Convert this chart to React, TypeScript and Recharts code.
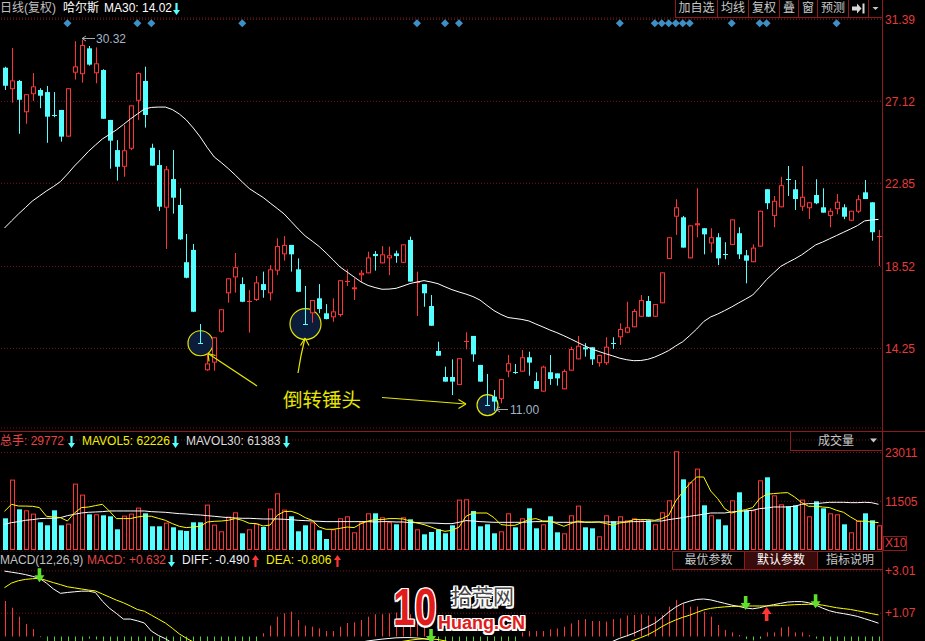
import React from 'react';
import { ComposedChart, Bar, Line, Scatter, XAxis, YAxis, CartesianGrid } from 'recharts';

// daily candles, left to right
const opens = [
  28.87, 27.75, 28.18, 26.55, 27.49, 27.71, 27.6, 26.4, 26.67, 25.28,
  28.61, 28.53, 29.88, 28.58, 28.75, 26.15, 24.58, 23.71, 24.65, 27.15,
  28.18, 24.7, 23.8, 21.58, 23.07, 21.72, 18.74, 19.38, 14.53, 13.11,
  13.51, 15.12, 17.12, 17.95, 17.6, 16.67, 16.77, 17.6, 17.12, 18.3,
  19.15, 19.64, 18.37, 15.53, 16.08, 16.86, 16.08, 15.87, 15.99, 17.75,
  17.33, 18.06, 18.16, 19.17, 18.68, 18.94, 19.2, 18.71, 19.9, 17.64,
  17.6, 16.46, 14.12, 12.76, 12.76, 12.35, 14.64, 14.9, 13.39, 11.31,
  11.74, 11.62, 13.04, 13.04, 13.04, 13.79, 12.55, 12.0, 13.01, 12.95,
  12.12, 13.09, 13.68, 14.31, 14.31, 13.48, 13.48, 14.53, 14.83, 15.07,
  15.35, 15.9, 16.72, 15.9, 16.6, 18.91, 21.11, 21.08, 18.94, 20.66,
  20.51, 19.72, 20.04, 19.16, 19.64, 20.25, 19.1, 18.74, 19.55, 22.54,
  21.15, 21.6, 23.07, 22.54, 21.63, 21.55, 22.24, 21.6, 21.15, 21.5,
  21.6, 20.9, 21.37, 22.38, 21.86, 20.09,
];
const highs = [
  28.92, 29.9, 28.23, 27.49, 28.59, 27.8, 27.92, 27.6, 26.67, 27.8,
  30.25, 30.32, 30.0, 29.93, 28.79, 26.15, 25.1, 25.89, 26.91, 28.63,
  28.92, 24.91, 24.58, 23.75, 24.58, 22.59, 20.21, 19.69, 15.52, 14.0,
  14.83, 16.29, 17.9, 19.22, 17.95, 17.29, 18.02, 18.25, 18.59, 19.99,
  20.1, 19.64, 18.94, 17.5, 16.77, 17.6, 16.56, 16.86, 17.8, 18.37,
  17.9, 18.33, 19.29, 19.32, 19.58, 19.55, 19.34, 19.67, 20.07, 18.25,
  17.6, 17.03, 14.6, 13.3, 13.68, 13.74, 15.09, 14.9, 13.39, 12.92,
  12.08, 12.65, 13.91, 13.44, 14.17, 14.08, 13.0, 13.35, 13.91, 12.95,
  13.16, 14.34, 14.9, 14.52, 14.31, 13.91, 14.83, 14.83, 15.56, 16.68,
  16.3, 17.03, 16.98, 16.56, 18.21, 20.04, 22.02, 21.15, 20.66, 22.59,
  20.51, 20.51, 20.25, 19.78, 20.97, 20.56, 19.38, 19.67, 21.42, 22.54,
  22.19, 23.19, 23.75, 23.02, 23.75, 21.86, 23.06, 22.59, 21.55, 22.29,
  21.76, 21.42, 22.24, 23.02, 21.86, 20.42,
];
const lows = [
  27.71, 27.05, 25.43, 25.95, 27.14, 26.76, 24.96, 26.29, 25.02, 25.28,
  28.25, 28.09, 28.98, 28.06, 26.21, 23.61, 22.99, 23.19, 24.58, 26.15,
  25.75, 23.77, 21.41, 19.43, 21.27, 19.9, 17.9, 16.14, 14.5, 13.08,
  13.09, 15.07, 16.63, 17.15, 16.66, 15.07, 16.72, 16.89, 16.74, 18.07,
  18.82, 18.25, 17.18, 15.5, 15.59, 16.08, 15.76, 15.64, 15.9, 17.5,
  16.77, 17.71, 18.16, 18.3, 18.68, 18.07, 18.71, 18.71, 17.73, 15.94,
  16.42, 15.43, 13.87, 12.52, 11.82, 12.35, 14.2, 13.56, 12.52, 11.25,
  11.0, 11.39, 12.75, 12.92, 13.04, 12.83, 12.14, 12.0, 12.35, 12.31,
  12.12, 13.09, 13.68, 13.82, 13.39, 13.3, 13.39, 14.22, 14.43, 15.04,
  15.35, 15.9, 15.9, 15.9, 16.6, 18.91, 20.16, 19.5, 18.94, 20.04,
  19.15, 19.24, 18.59, 18.89, 19.64, 18.91, 17.64, 18.74, 19.55, 21.5,
  20.56, 21.6, 22.19, 21.46, 21.41, 20.99, 21.76, 21.32, 20.56, 21.24,
  20.98, 20.88, 21.29, 22.03, 19.86, 18.54,
];
const closes = [
  27.93, 28.21, 27.2, 27.49, 27.9, 27.41, 26.32, 26.39, 25.28, 27.8,
  28.94, 30.05, 29.03, 29.1, 26.21, 25.07, 23.71, 24.57, 26.91, 28.59,
  26.41, 23.77, 21.63, 23.58, 22.1, 19.93, 17.93, 16.16, 14.52, 13.47,
  14.83, 16.29, 17.9, 18.48, 16.68, 16.72, 17.69, 17.29, 18.37, 19.58,
  19.64, 19.15, 17.2, 15.52, 16.77, 16.3, 15.78, 16.18, 17.8, 17.76,
  17.43, 18.19, 18.99, 19.06, 19.15, 19.1, 19.06, 19.67, 17.73, 17.69,
  17.12, 15.43, 13.87, 12.52, 12.52, 13.74, 14.65, 13.94, 12.52, 11.3,
  11.48, 12.65, 13.48, 13.03, 13.79, 13.51, 12.14, 13.3, 12.66, 12.69,
  13.07, 14.22, 14.39, 14.2, 13.68, 13.91, 14.34, 14.52, 15.26, 15.35,
  16.2, 16.77, 15.9, 16.56, 18.21, 20.04, 21.6, 19.5, 20.66, 20.77,
  20.19, 20.04, 18.94, 19.15, 20.97, 19.15, 18.82, 19.5, 21.42, 21.81,
  21.94, 22.75, 23.06, 22.03, 22.15, 21.86, 21.81, 21.32, 21.42, 21.89,
  21.11, 21.42, 22.02, 22.03, 20.3, 20.1,
];
const ma30 = [
  20.52, 20.89, 21.25, 21.59, 21.93, 22.19, 22.45, 22.68, 22.94, 23.33,
  23.75, 24.12, 24.51, 24.84, 25.16, 25.39, 25.63, 25.91, 26.2, 26.46,
  26.72, 26.8, 26.82, 26.82, 26.69, 26.46, 26.15, 25.73, 25.26, 24.71,
  24.22, 23.93, 23.62, 23.28, 22.92, 22.58, 22.34, 22.11, 21.82, 21.54,
  21.25, 20.86, 20.47, 20.11, 19.84, 19.56, 19.22, 18.86, 18.49, 18.23,
  17.97, 17.71, 17.53, 17.42, 17.33, 17.34, 17.38, 17.5, 17.63, 17.71,
  17.78, 17.71, 17.62, 17.46, 17.31, 17.19, 17.08, 16.95, 16.77, 16.49,
  16.22, 16.02, 15.86, 15.81, 15.76, 15.68, 15.52, 15.37, 15.21, 15.07,
  14.91, 14.74, 14.56, 14.38, 14.22, 14.09, 13.97, 13.86, 13.74, 13.66,
  13.61, 13.62, 13.68, 13.8, 13.96, 14.14, 14.38, 14.6, 14.92, 15.26,
  15.65, 15.89, 16.04, 16.22, 16.41, 16.62, 16.82, 17.03, 17.42, 17.84,
  18.18, 18.52, 18.72, 18.91, 19.12, 19.38, 19.64, 19.79, 19.96, 20.13,
  20.3, 20.47, 20.65, 20.89, 20.94, 20.97,
];
const volumes = [
  7488, 16628, 9613, 9377, 8598, 6543, 5834, 9377, 5834, 6236,
  15684, 13085, 8432, 8432, 8196, 7960, 4889, 8125, 8598, 10015,
  8669, 5598, 5598, 6472, 5362, 4653, 4488, 6543, 6543, 10723,
  5999, 4417, 7889, 8905, 3945, 4889, 6236, 5433, 9779, 13393,
  9542, 7960, 4417, 5834, 6543, 4653, 2598, 4889, 7488, 7960,
  4181, 6543, 8669, 8669, 7724, 6543, 6070, 7724, 7251, 4889,
  3708, 4252, 4889, 3945, 5834, 11904, 11975, 9212, 5598, 6070,
  3945, 4417, 8669, 5362, 7488, 9850, 5126, 6070, 7960, 4181,
  3945, 8196, 10487, 5362, 5126, 3236, 8196, 6779, 7960, 7015,
  7488, 7015, 7015, 6070, 8905, 11739, 23313, 16699, 15991, 19227,
  10558, 8196, 7251, 5834, 11739, 13629, 9377, 9377, 16463, 17172,
  12920, 10794, 10322, 10558, 11904, 7960, 11503, 9850, 8669, 8432,
  6070, 4181, 6850, 8669, 7015, 5834,
];
const mavol5 = [
  9141, 10794, 10393, 10369, 10322, 10015, 7960, 7795, 7653, 6850,
  8739, 10015, 10157, 10487, 10794, 9212, 7417, 7417, 7417, 7795,
  8031, 7960, 7488, 7015, 6236, 5598, 5291, 5433, 5598, 6614,
  6779, 6850, 7015, 7417, 7015, 6307, 6236, 5669, 5905, 8196,
  9070, 9141, 8598, 7653, 7015, 5433, 4889, 4889, 5126, 5433,
  5291, 6236, 6850, 7180, 7180, 7417, 7417, 7322, 6850, 6377,
  5999, 5433, 4818, 4417, 4653, 5400, 7960, 8739, 8739, 8739,
  7653, 5999, 5834, 5834, 6472, 7180, 7417, 6850, 6850, 6236,
  5598, 6236, 6850, 6614, 6614, 6614, 6236, 5834, 6377, 6614,
  7180, 7180, 7180, 7015, 7417, 8196, 11574, 13700, 15684, 17243,
  17243, 13936, 12141, 9779, 8739, 9212, 9542, 10015, 12141, 13156,
  13322, 13463, 13558, 12519, 11196, 10322, 10322, 10157, 10015, 9377,
  8905, 7795, 6850, 6779, 6614, 6472,
];
const mavol30 = [
  6070, 6464, 6700, 7015, 7173, 7409, 7488, 7488, 7646, 8117,
  8432, 8747, 8904, 8983, 9062, 9219, 9219, 9219, 9219, 9219,
  9219, 9062, 8983, 8904, 8747, 8589, 8510, 8353, 8274, 8117,
  7960, 7803, 7646, 7567, 7488, 7488, 7409, 7330, 7330, 7330,
  7252, 7173, 7015, 6937, 6857, 6779, 6700, 6700, 6700, 6700,
  6700, 6700, 6700, 6621, 6700, 6700, 6621, 6621, 6464, 6464,
  6385, 6385, 6307, 6228, 6228, 6543, 6937, 6857, 6700, 6621,
  6543, 6543, 6543, 6543, 6543, 6621, 6700, 6700, 6700, 6543,
  6543, 6543, 6621, 6543, 6543, 6621, 6621, 6621, 6621, 6621,
  6700, 6700, 6779, 6857, 6857, 7173, 7409, 7646, 7960, 8196,
  8432, 8747, 8747, 8747, 8983, 9141, 9219, 9377, 9771, 9928,
  10164, 10164, 10164, 10322, 10794, 10952, 10952, 11109, 11267, 11267,
  11267, 11188, 11188, 11267, 11188, 10794,
];
const diffs = [
  3.0, 2.95, 2.9, 2.84, 2.76, 2.67, 2.45, 2.18, 1.98, 2.02,
  2.05, 2.08, 2.08, 2.02, 1.62, 1.3, 1.06, 0.8, 0.8, 0.72,
  0.62, 0.25, 0.05, -0.1, -0.3, -0.55, -0.8, -1.05, -1.3, -1.5,
  -1.65, -1.75, -1.8, -1.8, -1.78, -1.72, -1.62, -1.5, -1.35, -1.18,
  -1.0, -0.88, -0.8, -0.75, -0.7, -0.64, -0.58, -0.52, -0.45, -0.38,
  -0.32, -0.26, -0.2, -0.16, -0.12, -0.09, -0.06, -0.05, -0.05, -0.07,
  -0.1, -0.16, -0.3, -0.5, -0.72, -0.9, -1.02, -1.14, -1.26, -1.38,
  -1.48, -1.52, -1.5, -1.45, -1.38, -1.3, -1.25, -1.18, -1.1, -1.02,
  -0.95, -0.85, -0.72, -0.62, -0.52, -0.42, -0.32, -0.22, -0.08, 0.03,
  0.15, 0.3, 0.45, 0.61, 0.85, 1.12, 1.35, 1.52, 1.62, 1.7,
  1.72, 1.68, 1.6, 1.52, 1.44, 1.38, 1.31, 1.27, 1.32, 1.4,
  1.46, 1.52, 1.58, 1.6, 1.6, 1.55, 1.45, 1.3, 1.18, 1.1,
  1.05, 0.99, 0.92, 0.82, 0.72, 0.61,
];
const deas = [
  2.24, 2.45, 2.56, 2.62, 2.65, 2.67, 2.57, 2.47, 2.38, 2.28,
  2.23, 2.18, 2.13, 2.09, 1.95, 1.81, 1.67, 1.55, 1.4, 1.24,
  1.16, 0.98, 0.8, 0.62, 0.38, 0.12, -0.08, -0.25, -0.42, -0.58,
  -0.72, -0.86, -0.98, -1.08, -1.16, -1.22, -1.26, -1.28, -1.28, -1.26,
  -1.22, -1.16, -1.1, -1.04, -0.98, -0.92, -0.86, -0.8, -0.74, -0.68,
  -0.62, -0.56, -0.5, -0.44, -0.38, -0.32, -0.27, -0.22, -0.17, -0.13,
  -0.11, -0.11, -0.14, -0.2, -0.28, -0.38, -0.48, -0.58, -0.68, -0.78,
  -0.88, -0.98, -1.06, -1.12, -1.16, -1.18, -1.19, -1.19, -1.17, -1.14,
  -1.1, -1.05, -0.99, -0.92, -0.84, -0.75, -0.65, -0.54, -0.42, -0.29,
  -0.17, -0.05, 0.08, 0.25, 0.45, 0.62, 0.76, 0.88, 0.98, 1.1,
  1.22, 1.29, 1.33, 1.36, 1.38, 1.39, 1.4, 1.4, 1.4, 1.4,
  1.41, 1.42, 1.44, 1.46, 1.47, 1.48, 1.48, 1.44, 1.38, 1.32,
  1.28, 1.24, 1.18, 1.12, 1.05, 0.99,
];
const macdBars = [
  1.63, 1.32, 0.91, 0.57, 0.34, -0.03, -0.24, -0.58, -0.8, -0.52,
  -0.36, -0.2, -0.1, -0.14, -0.66, -1.02, -1.22, -1.5, -1.2, -1.04,
  -1.08, -1.46, -1.5, -1.44, -1.36, -1.34, -1.44, -1.6, -1.76, -1.84,
  -1.86, -1.78, -1.64, -1.44, -1.24, -1.0, -0.72, 0.15, 0.5, 0.91,
  1.06, 1.14, 0.76, 0.5, 0.45, 0.37, 0.25, 0.25, 0.45, 0.62,
  0.65, 0.76, 0.91, 1.02, 1.02, 1.06, 1.1, 1.08, 1.02, 0.8,
  0.45, -0.1, -0.32, -0.6, -0.88, -1.04, -1.08, -1.12, -1.16, -1.2,
  -1.2, -1.08, -0.88, -0.66, 0.19, 0.25, 0.25, 0.25, 0.33, 0.37,
  0.45, 0.6, 0.76, 0.8, 0.71, 0.71, 0.68, 0.8, 0.83, 0.96,
  0.99, 1.02, 0.96, 0.91, 0.99, 1.37, 1.67, 1.52, 1.37, 1.37,
  1.14, 0.91, 0.53, 0.3, 0.19, 0.07, -0.12, -0.18, -0.1, 0.19,
  0.19, 0.41, 0.45, 0.19, 0.19, 0.07, -0.1, -0.22, -0.34, -0.42,
  -0.46, -0.5, -0.52, -0.6, -0.66, -0.76,
];
const flagDays = [9, 19, 21, 34, 59, 63, 65, 88, 93, 94, 95, 96, 97, 98, 104, 108, 109, 119];
const hammerDays = [28, 43, 69];
const deadCrossDays = [5, 61, 106, 116];
const goldenCrossDays = [109];
const priceTicks = [14.25, 18.52, 22.85, 27.12, 31.39];
const volTicks = [11505, 23011];
const macdTicks = [1.07, 3.01];
const FLAG_LEVEL = 31.18;

const rows = opens.map((open, i) => ({
  i,
  open,
  high: highs[i],
  low: lows[i],
  close: closes[i],
  ma: ma30[i],
  vol: volumes[i],
  mv5: mavol5[i],
  mv30: mavol30[i],
  diff: diffs[i],
  dea: deas[i],
  macd: macdBars[i],
  flag: flagDays.includes(i) ? FLAG_LEVEL : null,
  cross: deadCrossDays.includes(i) || goldenCrossDays.includes(i) ? deas[i] : null,
}));

const RED = '#ff3434';
const CYAN = '#54ffff';
const GREEN = '#4ed22a';
const AXIS_RED = '#e23c3c';
const GRID = '#741818';
const FRAME = '#8e1b1b';
const FONT = '"Liberation Sans", Arial, "Noto Sans CJK SC", sans-serif';
const HAMMER_R: Record<number, number> = { 28: 12.5, 43: 15.5, 69: 10.5 };

const Candle = (props: any) => {
  const { x, y, width, height, payload } = props;
  const { open, close, high, low, i } = payload;
  const cx = Math.round(x + width / 2);
  const k = height / (high - low);
  const yOf = (v: number) => y + (high - v) * k;
  const up = close > open;
  const color = up ? RED : CYAN;
  const top = yOf(Math.max(open, close));
  const bot = yOf(Math.min(open, close));
  const r = hammerDays.includes(i) ? HAMMER_R[i] : 0;
  let body;
  if (bot - top < 1.5) {
    const yy = Math.round(yOf(close)) + 0.5;
    body = <line x1={cx - 2} x2={cx + 3} y1={yy} y2={yy} stroke={color} />;
  } else if (up) {
    body = <rect x={cx - 1.5} y={top + 0.5} width={4} height={bot - top - 1} fill="#000" stroke={color} />;
  } else {
    body = <rect x={cx - 2} y={top} width={5} height={bot - top} fill={color} />;
  }
  return (
    <g>
      {r > 0 && (
        <circle cx={cx + 0.5} cy={yOf(close)} r={r} fill="#0b1d3b" stroke="#e8e800" strokeWidth={1.2} />
      )}
      <line x1={cx + 0.5} x2={cx + 0.5} y1={y} y2={y + height} stroke={color} />
      {body}
    </g>
  );
};

const VolBar = (props: any) => {
  const { x, y, width, height, payload } = props;
  const cx = Math.round(x + width / 2);
  if (payload.close > payload.open) {
    return <rect x={cx - 1.5} y={y + 0.5} width={4} height={Math.max(height - 1, 0)} fill="#000" stroke={RED} />;
  }
  return <rect x={cx - 2} y={y} width={5} height={height} fill={CYAN} />;
};

const MacdBar = (props: any) => {
  const { x, y, width, height, payload } = props;
  const cx = Math.round(x + width / 2) + 0.5;
  return (
    <line x1={cx} x2={cx} y1={y} y2={y + height} stroke={payload.macd >= 0 ? RED : GREEN} />
  );
};

const Flag = (props: any) => {
  const { cx, cy, payload } = props;
  if (payload == null || payload.flag == null) return null;
  return <path d={`M${cx} ${cy - 4}L${cx + 4} ${cy}L${cx} ${cy + 4}L${cx - 4} ${cy}Z`} fill="#3d8fc6" />;
};

const CrossArrow = (props: any) => {
  const { cx, cy, payload } = props;
  if (payload == null || payload.cross == null) return null;
  if (goldenCrossDays.includes(payload.i)) {
    const t = cy + 1;
    return (
      <path
        d={`M${cx} ${t}L${cx + 5} ${t + 7}L${cx + 1.8} ${t + 7}L${cx + 1.8} ${t + 14}L${cx - 1.8} ${t + 14}L${cx - 1.8} ${t + 7}L${cx - 5} ${t + 7}Z`}
        fill={RED}
      />
    );
  }
  const t = cy + 4;
  return (
    <path
      d={`M${cx} ${t}L${cx + 5} ${t - 7}L${cx + 1.8} ${t - 7}L${cx + 1.8} ${t - 14}L${cx - 1.8} ${t - 14}L${cx - 1.8} ${t - 7}L${cx - 5} ${t - 7}Z`}
      fill="#5ee02a"
    />
  );
};

const Txt = ({ left, top, color, size = 12, children, style }: any) => (
  <span
    style={{
      position: 'absolute',
      left,
      top,
      color,
      fontSize: size,
      lineHeight: '14px',
      whiteSpace: 'nowrap',
      ...style,
    }}
  >
    {children}
  </span>
);

const TinyArrow = ({ left, top, color, up }: any) => (
  <svg style={{ position: 'absolute', left, top }} width={7} height={12}>
    {up ? (
      <path d="M3.5 0L7 5L4.6 5L4.6 12L2.4 12L2.4 5L0 5Z" fill={color} />
    ) : (
      <path d="M2.4 0L4.6 0L4.6 7L7 7L3.5 12L0 7L2.4 7Z" fill={color} />
    )}
  </svg>
);

const boxStyle = (w: number, h: number, extra?: any) => ({
  width: w,
  height: h,
  boxSizing: 'border-box' as const,
  borderRight: `1px solid ${FRAME}`,
  borderBottom: `1px solid ${FRAME}`,
  color: '#c8c8c8',
  fontSize: 12,
  lineHeight: `${h - 1}px`,
  textAlign: 'center' as const,
  ...extra,
});

const topButtons = [
  { label: '加自选', w: 42 },
  { label: '均线', w: 31 },
  { label: '复权', w: 31 },
  { label: '叠', w: 19 },
  { label: '窗', w: 19 },
  { label: '预测', w: 31 },
];

const outline =
  '-1.5px 0 #fff, 1.5px 0 #fff, 0 -1.5px #fff, 0 1.5px #fff, -1.5px -1.5px #fff, 1.5px 1.5px #fff, -1.5px 1.5px #fff, 1.5px -1.5px #fff';

const xAxis = <XAxis dataKey="i" type="category" hide />;
const margin = { top: 0, right: 0, left: 1, bottom: 0 };

export default function App() {
  return (
    <div
      style={{
        position: 'absolute',
        left: 0,
        top: 0,
        width: 925,
        height: 641,
        background: '#000',
        overflow: 'hidden',
        fontFamily: FONT,
      }}
    >
      {/* price panel */}
      <div style={{ position: 'absolute', left: 0, top: 0 }}>
        <ComposedChart width={925} height={430} data={rows} margin={{ ...margin, top: 18, bottom: 2 }}>
          {xAxis}
          <YAxis
            orientation="right"
            width={43}
            type="number"
            domain={[10.105, 31.459]}
            allowDataOverflow
            ticks={priceTicks}
            interval={0}
            tickFormatter={(v: number) => v.toFixed(2)}
            tick={{ fill: AXIS_RED, fontSize: 12 }}
            tickLine={false}
            axisLine={false}
            tickSize={0}
            tickMargin={3}
          />
          <CartesianGrid vertical={false} stroke={GRID} strokeDasharray="1 2" />
          <Bar dataKey={(d: any) => [d.low, d.high]} shape={<Candle />} isAnimationActive={false} />
          <Line dataKey="ma" stroke="#ffffff" strokeWidth={1} dot={false} type="linear" isAnimationActive={false} />
          <Scatter dataKey="flag" shape={<Flag />} isAnimationActive={false} />
        </ComposedChart>
      </div>

      {/* volume panel */}
      <div style={{ position: 'absolute', left: 0, top: 431 }}>
        <ComposedChart width={925} height={119} data={rows} margin={{ ...margin, top: 9 }}>
          {xAxis}
          <YAxis
            orientation="right"
            width={43}
            type="number"
            domain={[0, 25987]}
            allowDataOverflow
            ticks={volTicks}
            interval={0}
            tick={{ fill: AXIS_RED, fontSize: 12 }}
            tickLine={false}
            axisLine={false}
            tickSize={0}
            tickMargin={3}
          />
          <CartesianGrid vertical={false} stroke={GRID} strokeDasharray="1 2" />
          <Bar dataKey="vol" shape={<VolBar />} isAnimationActive={false} />
          <Line dataKey="mv30" stroke="#ffffff" strokeWidth={1} dot={false} type="linear" isAnimationActive={false} />
          <Line dataKey="mv5" stroke="#ffff00" strokeWidth={1} dot={false} type="linear" isAnimationActive={false} />
        </ComposedChart>
      </div>

      {/* MACD panel (runs below the visible edge) */}
      <div style={{ position: 'absolute', left: 0, top: 551 }}>
        <ComposedChart width={925} height={160} data={rows} margin={margin}>
          {xAxis}
          <YAxis
            orientation="right"
            width={43}
            type="number"
            domain={[-3.417, 3.922]}
            allowDataOverflow
            ticks={macdTicks}
            interval={0}
            tickFormatter={(v: number) => `+${v.toFixed(2)}`}
            tick={{ fill: AXIS_RED, fontSize: 12 }}
            tickLine={false}
            axisLine={false}
            tickSize={0}
            tickMargin={3}
          />
          <CartesianGrid vertical={false} stroke={GRID} strokeDasharray="1 2" />
          <Bar dataKey="macd" shape={<MacdBar />} isAnimationActive={false} />
          <Line dataKey="diff" stroke="#ffffff" strokeWidth={1} dot={false} type="linear" isAnimationActive={false} />
          <Line dataKey="dea" stroke="#ffff00" strokeWidth={1} dot={false} type="linear" isAnimationActive={false} />
          <Scatter dataKey="cross" shape={<CrossArrow />} isAnimationActive={false} />
        </ComposedChart>
      </div>

      {/* frame lines */}
      <div style={{ position: 'absolute', left: 882, top: 0, width: 1, height: 641, background: FRAME }} />
      <div style={{ position: 'absolute', left: 0, top: 431, width: 925, height: 1, background: FRAME }} />

      {/* title row */}
      <Txt left={0} top={1} color="#c0c0c0">日线(复权)</Txt>
      <Txt left={63} top={1} color="#ffffff">哈尔斯</Txt>
      <Txt left={104} top={1} color="#ffffff">MA30: 14.02</Txt>
      <TinyArrow left={173} top={3} color={CYAN} />
      <div style={{ position: 'absolute', left: 675, top: 0, display: 'flex', borderLeft: `1px solid ${FRAME}` }}>
        {topButtons.map((b) => (
          <div key={b.label} style={boxStyle(b.w, 18)}>
            {b.label}
          </div>
        ))}
        <div style={boxStyle(20, 18)}>
          <svg width={19} height={17}>
            <path d="M3 6.5H8V3.5L12.5 8.5L8 13.5V10.5H3Z" fill="#d8d8d8" />
            <rect x={13.5} y={3.5} width={2} height={10} fill="#d8d8d8" />
          </svg>
        </div>
        <div style={boxStyle(14, 18)}>
          <svg width={13} height={17}>
            <path d="M3.5 7H9.5L6.5 10Z" fill="#c8c8c8" />
          </svg>
        </div>
      </div>

      {/* volume header */}
      <Txt left={0} top={434} color="#e24646">总手: 29772</Txt>
      <TinyArrow left={68} top={436} color={CYAN} />
      <Txt left={82} top={434} color="#f0f000">MAVOL5: 62226</Txt>
      <TinyArrow left={172} top={436} color={CYAN} />
      <Txt left={186} top={434} color="#dcdcdc">MAVOL30: 61383</Txt>
      <TinyArrow left={283} top={436} color={CYAN} />
      <div
        style={{
          position: 'absolute',
          left: 790,
          top: 431,
          width: 93,
          height: 20,
          boxSizing: 'border-box',
          border: `1px solid ${FRAME}`,
          color: '#c8c8c8',
          fontSize: 12,
        }}
      >
        <span style={{ position: 'absolute', left: 27, top: 2, lineHeight: '14px' }}>成交量</span>
        <svg style={{ position: 'absolute', left: 79, top: 6 }} width={8} height={6}>
          <path d="M0 0.5H7L3.5 4.5Z" fill="#c8c8c8" />
        </svg>
      </div>
      <div
        style={{
          position: 'absolute',
          left: 883,
          top: 536,
          width: 24,
          height: 15,
          boxSizing: 'border-box',
          border: `1px solid ${FRAME}`,
          color: AXIS_RED,
          fontSize: 12,
          lineHeight: '13px',
          paddingLeft: 1,
        }}
      >
        X10
      </div>

      {/* MACD header */}
      <Txt left={0} top={553} color="#c0c0c0">MACD(12,26,9)</Txt>
      <Txt left={87} top={553} color="#e24646">MACD: +0.632</Txt>
      <TinyArrow left={168} top={555} color={CYAN} />
      <Txt left={182} top={553} color="#f0f0f0">DIFF: -0.490</Txt>
      <TinyArrow left={252} top={555} color={RED} up />
      <Txt left={266} top={553} color="#f0f000">DEA: -0.806</Txt>
      <TinyArrow left={334} top={555} color={RED} up />
      <div style={{ position: 'absolute', left: 672, top: 551, display: 'flex', borderLeft: `1px solid ${FRAME}`, borderTop: `1px solid ${FRAME}` }}>
        <div style={boxStyle(72, 18)}>最优参数</div>
        <div style={boxStyle(73, 18, { background: '#3a0b0b', color: '#ffffff' })}>默认参数</div>
        <div style={boxStyle(65, 18)}>指标说明</div>
      </div>

      {/* annotations */}
      <svg style={{ position: 'absolute', left: 0, top: 0 }} width={925} height={641}>
        <g stroke="#e6e600" strokeWidth={1.2} fill="none">
          <path d="M257 386L208 353.5" />
          <path d="M208 353.5L209 361.5M208 353.5L215.5 355.5" />
          <path d="M298 373Q300.5 356 305 338" />
          <path d="M305 338L300.5 345.5M305 338L309 345.5" />
          <path d="M382 397.5L466 404" />
          <path d="M466 404L458.5 399.5M466 404L458.5 408.5" />
        </g>
        <text x={283} y={407} fontSize={19.5} fill="#e6e600">倒转锤头</text>
        <g stroke="#a8a8a8" fill="none">
          <path d="M82 38.5H95M82 38.5L86 36M82 38.5L86 41" />
          <path d="M496 409.5H508M496 409.5L500 407M496 409.5L500 412" />
        </g>
        <text x={96} y={42.5} fontSize={12} fill="#a2b4c6">30.32</text>
        <text x={510} y={413.5} fontSize={12} fill="#a2b4c6">11.00</text>
      </svg>

      {/* site watermark */}
      <div
        style={{
          position: 'absolute',
          left: 393,
          top: 581,
          fontSize: 52,
          lineHeight: '52px',
          fontWeight: 900,
          color: '#e21b1b',
          transform: 'scaleX(0.75)',
          transformOrigin: 'left top',
          textShadow: outline,
          fontFamily: '"Liberation Sans", Arial, sans-serif',
        }}
      >
        10
      </div>
      <div
        style={{
          position: 'absolute',
          left: 451,
          top: 585,
          fontSize: 21,
          lineHeight: '21px',
          color: '#474747',
          textShadow: outline,
          fontFamily: '"Noto Sans CJK SC", sans-serif',
        }}
      >
        拾荒网
      </div>
      <div
        style={{
          position: 'absolute',
          left: 438,
          top: 615,
          fontSize: 18,
          lineHeight: '16px',
          fontWeight: 700,
          color: '#e21b1b',
          textShadow: outline,
        }}
      >
        Huang.CN
      </div>
    </div>
  );
}
